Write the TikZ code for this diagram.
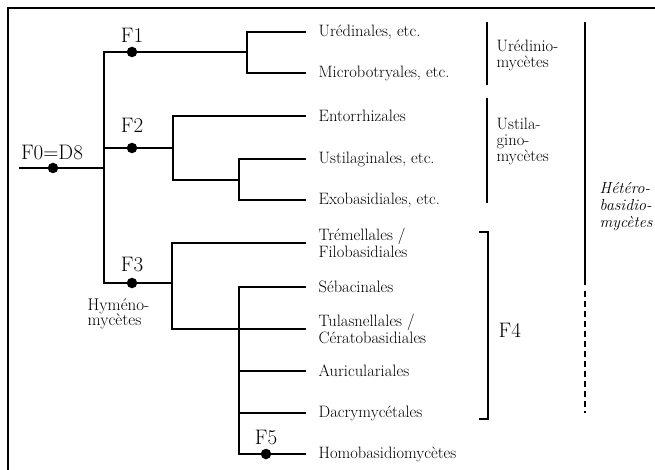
\documentclass[tikz,border=0pt]{standalone}
\usepackage{tikz}

\begin{document}
\begin{tikzpicture}[x=1pt,y=-1pt,line width=1.3pt,
  leaf/.style={anchor=west,inner xsep=12pt,inner ysep=1pt,align=left,
               font=\fontsize{16.5}{17}\selectfont},
  grp/.style={anchor=west,inner sep=0pt,align=left,
              font=\fontsize{16.5}{16}\selectfont},
  flab/.style={inner sep=0pt,font=\fontsize{21}{21}\selectfont},
  dot/.style={circle,fill,inner sep=0pt,minimum size=10.5pt},
  grpbar/.style={line width=1.8pt}]
  \useasboundingbox (0,0) rectangle (655,470);

  % cropped frame: only top and left edges show
  \draw[line width=2.4pt] (655,8) -- (8,8) -- (8,470);

  % leaves
  \node[leaf] (ured)  at (306,32)  {Urédinales, etc.};
  \node[leaf] (micro) at (306,73)  {Microbotryales, etc.};
  \node[leaf] (entor) at (306,116) {Entorrhizales};
  \node[leaf] (ustil) at (306,159) {Ustilaginales, etc.};
  \node[leaf] (exob)  at (306,200) {Exobasidiales, etc.};
  \node[leaf] (trem)  at (306,243) {Trémellales /\\Filobasidiales};
  \node[leaf] (seb)   at (306,287) {Sébacinales};
  \node[leaf] (tulas) at (306,329) {Tulasnellales /\\Cératobasidiales};
  \node[leaf] (auric) at (306,371) {Auriculariales};
  \node[leaf] (dacry) at (306,413) {Dacrymycétales};
  \node[leaf] (homo)  at (306,454) {Homobasidiomycètes};

  % junctions
  \coordinate (r0) at (19,168);
  \coordinate (r1) at (104,168);
  \coordinate (m1) at (104,52);
  \coordinate (m2) at (104,148);
  \coordinate (m3) at (104,283);
  \coordinate (a0) at (247,52);
  \coordinate (a1) at (247,32);
  \coordinate (a2) at (247,73);
  \coordinate (b0) at (173,148);
  \coordinate (b1) at (173,116);
  \coordinate (b2) at (173,180);
  \coordinate (b3) at (239,180);
  \coordinate (b4) at (239,159);
  \coordinate (b5) at (239,200);
  \coordinate (c0) at (172,283);
  \coordinate (c1) at (172,243);
  \coordinate (c2) at (172,329);
  \coordinate (c3) at (239,287);
  \coordinate (c4) at (239,454);
  \coordinate (c5) at (239,371);
  \coordinate (c6) at (239,413);

  % tree
  \draw (r0) -- (r1);
  \draw (a0) -- (m1) -- (m3) -- (c0);
  \draw (m2) -- (b0);
  \draw (ured.west) -- (a1) -- (a2) -- (micro.west);
  \draw (entor.west) -- (b1) -- (b2) -- (b3);
  \draw (ustil.west) -- (b4) -- (b5) -- (exob.west);
  \draw (trem.west) -- (c1) -- (c2) -- (tulas.west);
  \draw (seb.west) -- (c3) -- (c4) -- (homo.west);
  \draw (c5) -- (auric.west);
  \draw (c6) -- (dacry.west);

  % nodes of the tree
  \node[dot] (d0) at (53,168) {};
  \node[dot] (d1) at (132,52) {};
  \node[dot] (d2) at (132,148) {};
  \node[dot] (d3) at (132,283) {};
  \node[dot] (d5) at (266,454) {};
  \node[flab] (f0) at (52,152) {F0=D8};
  \node[flab] (f1) at (132,35) {F1};
  \node[flab] (f2) at (132,125) {F2};
  \node[flab] (f3) at (132,265) {F3};
  \node[flab] (f5) at (266,438) {F5};
  \node[grp,font=\fontsize{17}{15.5}\selectfont] (hymen) at (87,314)
    {Hyméno-\\mycètes};

  % groups
  \draw[grpbar] (487,22) -- (487,85);
  \node[grp] (uredm) at (496,55) {Urédinio-\\mycètes};
  \draw[grpbar] (487,98) -- (487,203);
  \node[grp] (ustilm) at (496,141) {Ustila-\\gino-\\mycètes};
  \draw[grpbar] (479,232) -- (488,232) -- (488,419) -- (479,419);
  \node[flab,anchor=west] (f4) at (498,330) {F4};
  \draw[grpbar] (585,22) -- (585,285);
  \draw[grpbar,dash pattern=on 6pt off 4pt] (585,291) -- (585,413);
  \node[grp,font=\fontsize{16}{17}\selectfont\itshape] (hetero) at (599,207)
    {Hétéro-\\basidio-\\mycètes};
\end{tikzpicture}
\end{document}
